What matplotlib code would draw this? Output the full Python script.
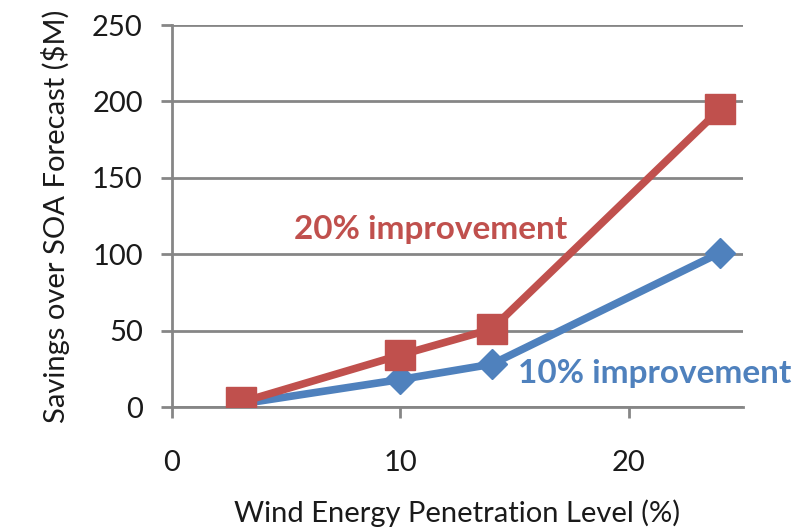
import matplotlib
matplotlib.use("Agg")
import matplotlib.pyplot as plt

x_vals = [3, 10, 14, 24]
improve_20 = [3, 34, 51, 195]
improve_10 = [2, 18, 28, 101]
x_ticks = [0, 10, 20]
y_ticks = [0, 50, 100, 150, 200, 250]

RED = "#C0504D"
BLUE = "#4F81BD"
GRID = "#868686"

plt.rcParams['font.family'] = ['Lato', 'DejaVu Sans']

fig = plt.figure(figsize=(7.98, 5.28), dpi=100)
ax = fig.add_axes([172/798, (528-407)/528, (743-172)/798, (407-25)/528])

ax.plot(x_vals, improve_10, color=BLUE, lw=5.5, marker='D', ms=15, zorder=3)
ax.plot(x_vals, improve_20, color=RED, lw=5.5, marker='s', ms=21, zorder=4)

ax.set_xlim(0, 25)
ax.set_ylim(0, 250)
ax.set_xticks(x_ticks)
ax.set_yticks(y_ticks)
ax.yaxis.grid(True, color=GRID, lw=2)
ax.set_axisbelow(True)
for s in ['top', 'right']:
    ax.spines[s].set_visible(False)
for s in ['left', 'bottom']:
    ax.spines[s].set_color(GRID)
    ax.spines[s].set_linewidth(2)
ax.tick_params(axis='both', colors=GRID, width=2, length=8, labelsize=21, labelcolor='#1a1a1a')
ax.tick_params(axis='x', pad=23)
ax.tick_params(axis='y', pad=13)

ax.set_xlabel("Wind Energy Penetration Level (%)", fontsize=21, color='#1a1a1a', labelpad=17)
ax.set_ylabel("Savings over SOA Forecast ($M)", fontsize=21, color='#1a1a1a', labelpad=16)

ax.text(5.35, 116, "20% improvement", color=RED, fontsize=24, fontweight='bold', va='center', ha='left')
ax.text(15.15, 22, "10% improvement", color=BLUE, fontsize=24, fontweight='bold', va='center', ha='left', clip_on=False)

fig.savefig("out.png", dpi=100)
